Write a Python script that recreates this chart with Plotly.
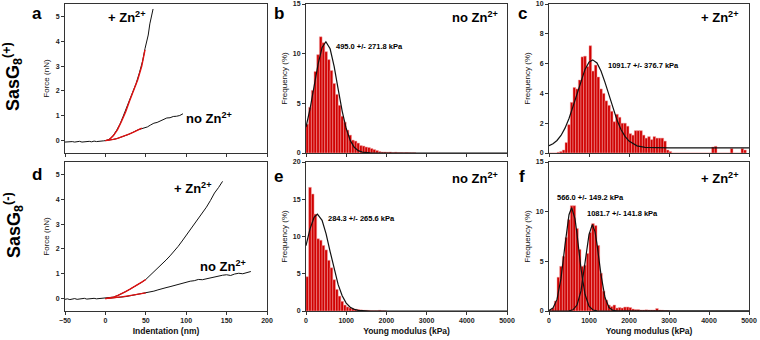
import plotly.graph_objects as go

W, H = 760, 340
FONT = "Arial, Liberation Sans, sans-serif"

# ---------------- data ----------------
BIN_WIDTH = 1000 / 15  # kPa

hist_b = [2.9, 4.6, 6.3, 8.2, 9.9, 11.7, 11.1, 10.2, 9.4, 8.3, 7.0, 5.9, 4.8, 3.7, 3.1, 2.3, 1.8, 1.3,
          1.2, 1.0, 0.75, 0.7, 0.6, 0.55, 0.45, 0.35, 0.25, 0.15, 0.1, 0.1, 0.08, 0.1, 0.05, 0.08,
          0.05, 0.05, 0.03, 0.05, 0.03, 0.02, 0.02]
hist_c = [0, 0, 0, 0.05, 0.1, 0.2, 0.7, 1.9, 3.4, 4.4, 4.3, 4.9, 6.45, 6.5, 5.8, 7.2,
          5.5, 5.9, 5.1, 4.3, 4.0, 3.5, 3.2, 2.8, 2.1, 2.6, 2.4, 2.0, 2.0, 1.8, 1.3, 1.2, 1.5,
          1.5, 1.5, 1.2, 1.0, 1.1, 0.9, 1.1, 1.0, 1.0, 1.0, 0.8, 0.2, 0.1,
          0, 0, 0, 0, 0, 0, 0, 0, 0, 0, 0, 0, 0, 0, 0, 0.4, 0.45, 0, 0, 0, 0, 0, 0.3, 0, 0, 0,
          0.3, 0.2]
hist_e = [4.6, 16.6, 15.7, 13.0, 9.7, 9.5, 8.8, 8.2, 6.8, 5.8, 4.2, 2.9, 2.0, 1.3, 0.8, 0.55,
          0.4, 0.3, 0.25, 0.2, 0.15, 0.1, 0.1, 0.08, 0.06, 0.05, 0.05, 0.1, 0.04, 0.03]
hist_f = [0.1, 0.3, 1.0, 3.4, 4.5, 5.5, 7.4, 9.2, 10.6, 10.6, 8.3, 6.2, 4.5, 4.6, 5.8, 7.9,
          8.8, 8.6, 6.6, 3.8, 2.0, 1.1, 0.6, 0.45, 0.6, 0.3, 0.35, 0.3, 0.4, 0.4, 0.35, 0.2,
          0.15, 0.15, 0.1, 0.1, 0.12, 0.1, 0.1, 0.1, 0.25, 0.1, 0.08, 0.05, 0.05]

# Gaussian fit curves
fit_b_x = [0, 100, 200, 300, 400, 495, 600, 700, 800, 900, 1000, 1100, 1200, 1300, 1400, 1600, 2000, 5000]
fit_b_y = [2.61, 4.43, 6.68, 8.93, 10.62, 11.2, 10.49, 8.72, 6.44, 4.22, 2.46, 1.27, 0.58, 0.24, 0.09, 0.01, 0, 0]
fit_c_x = [0, 100, 200, 300, 400, 500, 600, 700, 800, 900, 1000, 1092, 1200, 1300, 1400, 1500,
           1600, 1700, 1800, 1900, 2000, 2200, 2400, 2600, 3000, 5000]
fit_c_y = [0.49, 0.62, 0.84, 1.18, 1.67, 2.32, 3.12, 4.0, 4.87, 5.61, 6.1, 6.25, 6.04, 5.5, 4.74,
           3.86, 2.98, 2.21, 1.58, 1.12, 0.8, 0.48, 0.38, 0.36, 0.35, 0.35]
fit_e_x = [0, 100, 200, 284, 400, 500, 600, 700, 800, 900, 1000, 1100, 1200, 1300, 1400, 1600, 5000]
fit_e_y = [8.77, 11.02, 12.56, 13.0, 12.17, 10.35, 7.98, 5.58, 3.54, 2.04, 1.06, 0.5, 0.22, 0.08, 0.03, 0, 0]
fit_f1_x = [0, 100, 200, 300, 400, 500, 566, 650, 700, 800, 900, 1000, 1100, 1200, 1400, 5000]
fit_f1_y = [0.06, 0.3, 1.17, 3.28, 6.63, 9.69, 10.4, 9.27, 7.76, 4.25, 1.68, 0.48, 0.1, 0.01, 0, 0]
fit_f2_x = [0, 500, 600, 700, 800, 900, 1000, 1082, 1150, 1200, 1300, 1400, 1500, 1600, 1700, 5000]
fit_f2_y = [0, 0.02, 0.12, 0.6, 2.02, 4.74, 7.69, 8.7, 7.99, 6.74, 3.63, 1.36, 0.35, 0.06, 0, 0]

# Force-indentation curves
pre_x = [-50, -47, -44, -41, -38, -35, -32, -29, -26, -23, -20, -17, -14, -11, -8, -5, -2, 0]
pre_y = [-0.06, -0.05, -0.07, -0.04, -0.06, -0.05, -0.03, -0.06, -0.04, -0.05, -0.03, -0.05,
         -0.02, -0.04, -0.02, -0.03, -0.01, 0.0]
a_plus_x = [2, 6, 10, 14, 18, 22, 26, 30, 34, 38, 42, 46, 49, 51, 53, 55, 57, 59]
a_plus_y = [0.01, 0.08, 0.22, 0.42, 0.66, 0.98, 1.3, 1.65, 1.97, 2.3, 2.72, 3.2, 3.7, 4.0, 4.25, 4.7, 5.05, 5.3]
a_plus_fit_x = [0, 5, 10, 15, 20, 25, 30, 35, 40, 45, 49]
a_plus_fit_y = [0, 0.04, 0.2, 0.44, 0.78, 1.15, 1.6, 2.0, 2.45, 3.0, 3.65]
a_no_x = [4, 8, 12, 16, 20, 24, 28, 32, 36, 40, 44, 48, 52, 56, 60, 64, 68, 72, 76, 80, 84, 88, 92, 96]
a_no_y = [0.01, 0.03, 0.06, 0.1, 0.14, 0.19, 0.24, 0.3, 0.37, 0.43, 0.47, 0.5, 0.55, 0.63, 0.7,
          0.73, 0.8, 0.84, 0.91, 0.92, 0.97, 0.98, 1.01, 1.08]
a_no_fit_x = [0, 5, 10, 15, 20, 25, 30, 35, 40, 45]
a_no_fit_y = [0, 0.02, 0.05, 0.09, 0.14, 0.2, 0.27, 0.34, 0.42, 0.5]

d_pre_y = [-0.03, -0.01, -0.04, -0.02, 0.0, -0.03, -0.01, -0.02, 0.01, -0.02, 0.0, -0.01,
           0.01, -0.01, 0.0, 0.01, 0.0, 0.0]
d_plus_x = [5, 10, 15, 20, 25, 30, 35, 40, 45, 50, 55, 60, 65, 70, 75, 80, 85, 90, 95, 100,
            105, 110, 115, 120, 125, 130, 135, 140, 145]
d_plus_y = [0.02, 0.06, 0.12, 0.19, 0.28, 0.37, 0.46, 0.56, 0.66, 0.77, 0.92, 1.07, 1.22, 1.38,
            1.55, 1.72, 1.9, 2.1, 2.32, 2.55, 2.75, 2.97, 3.2, 3.45, 3.68, 3.95, 4.25, 4.47, 4.72]
d_plus_fit_x = [0, 5, 10, 15, 20, 25, 30, 35, 40, 45, 50]
d_plus_fit_y = [0, 0.02, 0.06, 0.12, 0.19, 0.28, 0.37, 0.46, 0.56, 0.66, 0.77]
d_no_x = [5, 10, 15, 20, 25, 30, 35, 40, 45, 50, 55, 60, 65, 70, 75, 80, 85, 90, 95, 100, 105,
          110, 115, 120, 125, 130, 135, 140, 145, 150, 155, 160, 165, 170, 175, 180]
d_no_y = [0.01, 0.02, 0.04, 0.06, 0.08, 0.11, 0.14, 0.17, 0.2, 0.23, 0.27, 0.3, 0.35, 0.38, 0.44,
          0.48, 0.53, 0.57, 0.62, 0.66, 0.7, 0.72, 0.77, 0.76, 0.8, 0.82, 0.86, 0.9, 0.94, 0.96,
          0.93, 0.99, 1.02, 1.0, 1.06, 1.09]
d_no_fit_x = [0, 10, 20, 30, 40, 50]
d_no_fit_y = [0, 0.03, 0.07, 0.12, 0.17, 0.23]

# ---------------- figure ----------------
def px(x):
    return x / W


def py(y):
    return 1 - y / H


fig = go.Figure()
BLACK = "#111111"
RED = "#e01010"


def line(ax, x, y, color=BLACK, width=1.0):
    fig.add_trace(go.Scatter(x=x, y=y, mode="lines", line=dict(color=color, width=width),
                             xaxis="x" + ax, yaxis="y" + ax, showlegend=False, hoverinfo="skip"))


def bars(ax, vals):
    xs = [(i + 0.5) * BIN_WIDTH for i in range(len(vals))]
    fig.add_trace(go.Bar(x=xs, y=vals, width=BIN_WIDTH, marker=dict(color="#d00000",
                         line=dict(color="#f3a0a0", width=0.5)),
                         xaxis="x" + ax, yaxis="y" + ax, showlegend=False, hoverinfo="skip"))


# panel a (axis "")
line("", pre_x + a_plus_x, pre_y + a_plus_y)
line("", [0] + a_no_x, [0] + a_no_y)
line("", a_plus_fit_x, a_plus_fit_y, RED, 1.4)
line("", a_no_fit_x, a_no_fit_y, RED, 1.4)
# panel d (axis 4)
line("4", pre_x + d_plus_x, d_pre_y + d_plus_y)
line("4", [0] + d_no_x, [0] + d_no_y)
line("4", d_plus_fit_x, d_plus_fit_y, RED, 1.4)
line("4", d_no_fit_x, d_no_fit_y, RED, 1.4)
# histograms
bars("2", hist_b)
line("2", fit_b_x, fit_b_y, BLACK, 1.2)
bars("3", hist_c)
line("3", fit_c_x, fit_c_y, BLACK, 1.2)
bars("5", hist_e)
line("5", fit_e_x, fit_e_y, BLACK, 1.2)
bars("6", hist_f)
line("6", fit_f1_x, fit_f1_y, BLACK, 1.2)
line("6", fit_f2_x, fit_f2_y, BLACK, 1.2)

TICKFONT = dict(family=FONT, size=7, color="#222", weight="bold")
AXC = "#333333"


def axis(domain, rng, dtick, labels=True, title=None, title_bold=False):
    d = dict(domain=domain, range=rng, dtick=dtick, tick0=rng[0],
             showline=True, linecolor=AXC, linewidth=1, mirror=True,
             ticks="outside", ticklen=3, tickwidth=1, tickcolor=AXC,
             showgrid=False, zeroline=False, showticklabels=labels, tickfont=TICKFONT,
             fixedrange=True, automargin=False)
    if title:
        d["title"] = dict(text=title, font=dict(family=FONT, size=8.5 if title_bold else 8,
                                                color="#111", weight="bold" if title_bold else "normal"),
                          standoff=4)
    return d


xa = [px(65), px(267)]
xb = [px(306), px(507)]
xc = [px(549), px(749)]
ytop = [py(153), py(4)]
ybot = [py(311), py(162)]

layout = dict(
    width=W, height=H, margin=dict(l=0, r=0, t=0, b=0, autoexpand=False),
    paper_bgcolor="white", plot_bgcolor="white", bargap=0, barmode="overlay",
    showlegend=False, font=dict(family=FONT),
    xaxis=axis(xa, [-50, 200], 50, labels=False),
    yaxis=axis(ytop, [-0.5, 5.5], 1, title="Force (nN)"),
    xaxis2=axis(xb, [0, 5000], 1000, labels=False),
    yaxis2=axis(ytop, [0, 15], 5, title="Frequency (%)"),
    xaxis3=axis(xc, [0, 5000], 1000, labels=False),
    yaxis3=axis(ytop, [0, 10], 2, title="Frequency (%)"),
    xaxis4=axis(xa, [-50, 200], 50, title="Indentation (nm)", title_bold=True),
    yaxis4=axis(ybot, [-0.5, 5.5], 1, title="Force (nN)"),
    xaxis5=axis(xb, [0, 5000], 1000, title="Young modulus (kPa)", title_bold=True),
    yaxis5=axis(ybot, [0, 20], 5, title="Frequency (%)"),
    xaxis6=axis(xc, [0, 5000], 1000, title="Young modulus (kPa)", title_bold=True),
    yaxis6=axis(ybot, [0, 15], 5, title="Frequency (%)"),
)
layout["yaxis"]["tick0"] = 0
layout["yaxis4"]["tick0"] = 0
for i, (xd, yd) in enumerate([("x", "y"), ("x2", "y2"), ("x3", "y3"), ("x4", "y4"), ("x5", "y5"), ("x6", "y6")]):
    k = "xaxis" if i == 0 else "xaxis%d" % (i + 1)
    layout[k]["anchor"] = yd
    k2 = "yaxis" if i == 0 else "yaxis%d" % (i + 1)
    layout[k2]["anchor"] = xd
fig.update_layout(**layout)

ann = []


def text(x, y, s, size, xanchor="left", bold=True, angle=0, color="#000"):
    ann.append(dict(x=px(x), y=py(y), xref="paper", yref="paper", text=s, showarrow=False,
                    xanchor=xanchor, yanchor="middle", textangle=angle,
                    font=dict(family=FONT, size=size, color=color, weight="bold" if bold else "normal")))


# panel letters
for lx, ly, s in [(30, 14, "a"), (272, 14, "b"), (516, 14, "c"),
                  (30, 174, "d"), (272, 176, "e"), (517, 176, "f")]:
    text(lx, ly, s, 17)
# row labels
text(13, 77, "SasG<sub>8</sub><sup>(+)</sup>", 18, xanchor="center", angle=-90)
text(13, 225, "SasG<sub>8</sub><sup>(-)</sup>", 18, xanchor="center", angle=-90)
ZN = "Zn<sup>2+</sup>"
text(106, 17, "+ " + ZN, 13)
text(184, 118, "no " + ZN, 13)
text(172, 188, "+ " + ZN, 13)
text(198, 266, "no " + ZN, 13)
text(500, 17, "no " + ZN, 13, xanchor="right")
text(740, 17, "+ " + ZN, 13, xanchor="right")
text(500, 178, "no " + ZN, 13, xanchor="right")
text(740, 178, "+ " + ZN, 13, xanchor="right")
# fit labels
text(334, 47, "495.0 +/- 271.8 kPa", 7.5)
text(606, 65, "1091.7 +/- 376.7 kPa", 7.5)
text(326, 218, "284.3 +/- 265.6 kPa", 7.5)
text(555, 197, "566.0 +/- 149.2 kPa", 7.5)
text(585, 213, "1081.7 +/- 141.8 kPa", 7.5)
fig.update_layout(annotations=ann)

fig.write_html("out.html", config={"displayModeBar": False, "staticPlot": True},
               post_script="document.body.style.margin='0';document.body.style.overflow='hidden';")
